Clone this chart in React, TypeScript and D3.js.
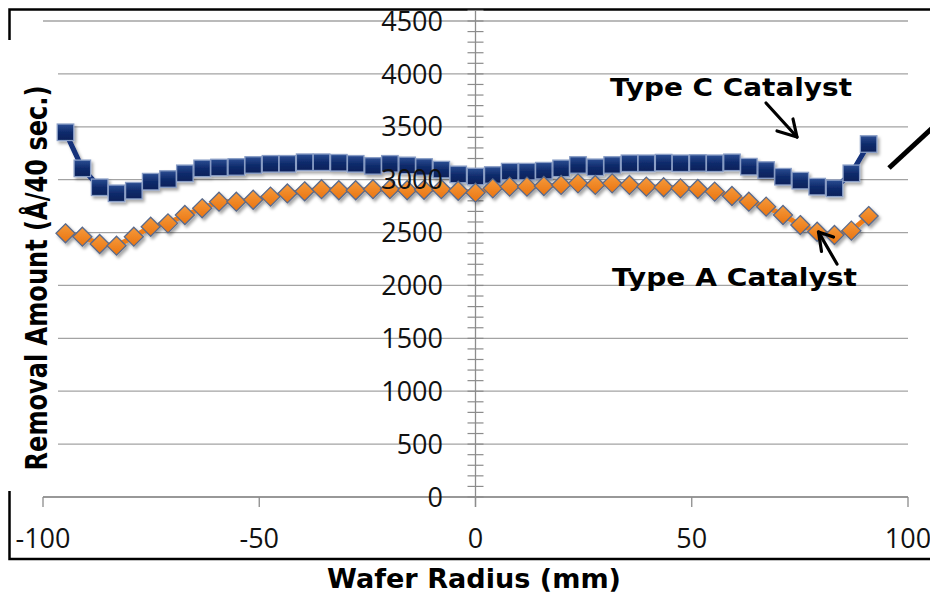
import React from "react";
import * as d3 from "d3";

const radiusMm = [
  -94.8, -90.9, -86.9, -83.0, -79.0, -75.1, -71.1, -67.2, -63.2, -59.3, -55.3, -51.4,
  -47.4, -43.5, -39.5, -35.6, -31.6, -27.7, -23.7, -19.8, -15.8, -11.9, -7.9, -4.0,
  0, 4.0, 7.9, 11.9, 15.8, 19.8, 23.7, 27.7, 31.6, 35.6, 39.5, 43.5, 47.4, 51.4,
  55.3, 59.3, 63.2, 67.2, 71.1, 75.1, 79.0, 83.0, 86.9, 90.9,
];

const typeC = [
  3448, 3107, 2928, 2871, 2896, 2981, 3006, 3060, 3107, 3115, 3120, 3139,
  3150, 3150, 3165, 3165, 3160, 3150, 3130, 3150, 3135, 3120, 3095, 3050,
  3030, 3044, 3076, 3076, 3085, 3107, 3139, 3117, 3139, 3155, 3155, 3161,
  3155, 3158, 3155, 3164, 3123, 3091, 3028, 2991, 2934, 2918, 3060, 3337,
];

const typeA = [
  2493, 2461, 2392, 2376, 2461, 2555, 2587, 2666, 2729, 2792, 2792, 2810,
  2840, 2870, 2890, 2910, 2900, 2900, 2910, 2910, 2900, 2905, 2910, 2895,
  2877, 2918, 2934, 2934, 2940, 2950, 2965, 2950, 2965, 2950, 2934, 2928,
  2918, 2912, 2887, 2846, 2792, 2745, 2666, 2571, 2508, 2477, 2518, 2656,
];

const xTicks = [-100, -50, 0, 50, 100];
const yTicks = [0, 500, 1000, 1500, 2000, 2500, 3000, 3500, 4000, 4500];
const yMinorTicks = d3.range(0, 4601, 100);

const W = 930;
const H = 594;

export default function App() {
  const x = d3.scaleLinear().domain([-100, 100]).range([43, 908]);
  const y = d3.scaleLinear().domain([0, 4500]).range([497, 21]);
  const x0 = x(0);

  const line = d3
    .line<number>()
    .x((_, i) => x(radiusMm[i]))
    .y((v) => y(v));

  const tickFont = "'Open Sans', sans-serif";
  const boldFont = "'DejaVu Sans', Verdana, sans-serif";

  const diamond = (cx: number, cy: number, r: number) =>
    `M${cx},${cy - r}L${cx + r},${cy}L${cx},${cy + r}L${cx - r},${cy}Z`;

  const sq = 16.5;

  return (
    <svg
      width={W}
      height={H}
      style={{ position: "absolute", left: 0, top: 0, background: "#fff" }}
    >
      <defs>
        <filter id="shadow" x="-50%" y="-50%" width="200%" height="200%">
          <feDropShadow dx="2" dy="2.5" stdDeviation="1.6" floodColor="#000" floodOpacity="0.35" />
        </filter>
        <linearGradient id="sqGrad" x1="0" y1="0" x2="0" y2="1">
          <stop offset="0" stopColor="#2b4d92" />
          <stop offset="0.5" stopColor="#0f2b6c" />
          <stop offset="1" stopColor="#0a215a" />
        </linearGradient>
        <linearGradient id="dmGrad" x1="0" y1="0" x2="0" y2="1">
          <stop offset="0" stopColor="#f59a3c" />
          <stop offset="1" stopColor="#ea7410" />
        </linearGradient>
      </defs>

      {/* gridlines */}
      {yTicks.map((t) => (
        <line key={"g" + t} x1={x(-100)} x2={x(100)} y1={y(t)} y2={y(t)} stroke="#a3a3a3" strokeWidth={1.3} />
      ))}

      {/* frame */}
      <path d={`M940,9.5 L9.5,9.5 L9.5,559 L940,559`} fill="none" stroke="#000" strokeWidth={2.5} />

      {/* white box behind y title */}
      <rect x={0} y={40} width={58} height={451} fill="#fff" />

      {/* x axis */}
      <line x1={x(-100)} x2={x(100)} y1={y(0)} y2={y(0)} stroke="#8c8c8c" strokeWidth={1.3} />
      {xTicks.map((t) => (
        <line key={"xt" + t} x1={x(t)} x2={x(t)} y1={y(0)} y2={y(0) + 10} stroke="#8c8c8c" strokeWidth={1.3} />
      ))}

      {/* y axis */}
      <line x1={x0} x2={x0} y1={y(4600)} y2={y(0) + 10} stroke="#8c8c8c" strokeWidth={1.3} />
      {yMinorTicks.map((t) => (
        <line key={"ym" + t} x1={x0 - 8} x2={x0 + 8} y1={y(t)} y2={y(t)} stroke="#8c8c8c" strokeWidth={1.2} />
      ))}

      {/* Type C series */}
      <g filter="url(#shadow)">
        <path d={line(typeC) || ""} fill="none" stroke="#12307a" strokeWidth={5} strokeLinejoin="round" />
        {typeC.map((v, i) => (
          <rect
            key={"c" + i}
            x={x(radiusMm[i]) - sq / 2}
            y={y(v) - sq / 2}
            width={sq}
            height={sq}
            fill="url(#sqGrad)"
            stroke="#8a9ec6"
            strokeWidth={1.3}
          />
        ))}
      </g>

      {/* Type A series */}
      <g filter="url(#shadow)">
        <path d={line(typeA) || ""} fill="none" stroke="#f07d18" strokeWidth={5} strokeLinejoin="round" />
        {typeA.map((v, i) => (
          <path
            key={"a" + i}
            d={diamond(x(radiusMm[i]), y(v), 9.5)}
            fill="url(#dmGrad)"
            stroke="#5a6b8c"
            strokeWidth={1.3}
          />
        ))}
      </g>

      {/* y tick labels */}
      {yTicks.map((t) => (
        <text
          key={"yl" + t}
          x={443}
          y={y(t)}
          dy="0.36em"
          textAnchor="end"
          fontFamily={tickFont}
          fontSize={27}
          fill="#111"
        >
          {t}
        </text>
      ))}

      {/* x tick labels */}
      {xTicks.map((t) => (
        <text
          key={"xl" + t}
          x={x(t)}
          y={548}
          textAnchor="middle"
          fontFamily={tickFont}
          fontSize={27}
          fill="#111"
        >
          {t}
        </text>
      ))}

      {/* axis titles */}
      <text
        x={474}
        y={588}
        textAnchor="middle"
        fontFamily={boldFont}
        fontWeight="bold"
        fontSize={27}
        textLength={294}
        lengthAdjust="spacingAndGlyphs"
        fill="#000"
      >
        Wafer Radius (mm)
      </text>
      <text
        transform="translate(47,278) rotate(-90)"
        textAnchor="middle"
        fontFamily={boldFont}
        fontWeight="bold"
        fontSize={30}
        textLength={385}
        lengthAdjust="spacingAndGlyphs"
        fill="#000"
      >
        Removal Amount (Å/40 sec.)
      </text>

      {/* annotations */}
      <text
        x={610}
        y={96}
        fontFamily={boldFont}
        fontWeight="bold"
        fontSize={25}
        textLength={242}
        lengthAdjust="spacingAndGlyphs"
        fill="#000"
      >
        Type C Catalyst
      </text>
      <text
        x={612}
        y={286}
        fontFamily={boldFont}
        fontWeight="bold"
        fontSize={25}
        textLength={245}
        lengthAdjust="spacingAndGlyphs"
        fill="#000"
      >
        Type A Catalyst
      </text>

      {/* arrows */}
      <g stroke="#000" strokeWidth={3.2} fill="none" strokeLinecap="round" strokeLinejoin="round">
        <path d="M766,103 L797,137" />
        <path d="M777,131 L797,137 L793,119" />
        <path d="M837,264 L818.5,232" />
        <path d="M821.5,251.5 L818.5,232 L833.5,237" />
      </g>
      <line x1={889} y1={168} x2={942} y2={119} stroke="#000" strokeWidth={5} />
    </svg>
  );
}
